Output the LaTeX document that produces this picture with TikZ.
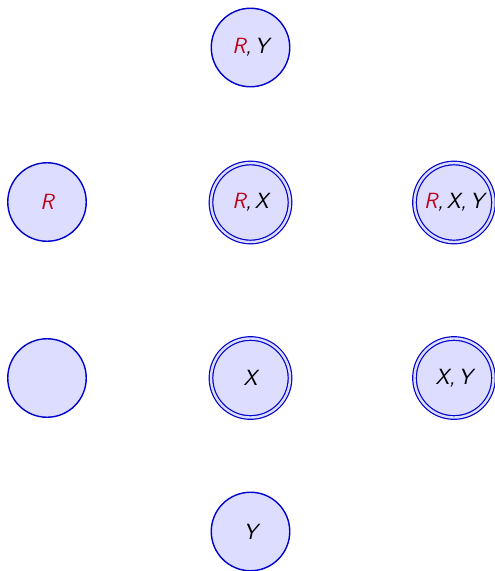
\documentclass[tikz,border=0pt]{standalone}
\definecolor{stfill}{HTML}{DDDDFF}
\definecolor{stdraw}{HTML}{0000CC}
\definecolor{rred}{HTML}{C00018}
\tikzset{
  state/.style={circle, draw=stdraw, fill=stfill, line width=1.4pt, minimum size=78.5pt, inner sep=0pt,
    font=\fontsize{22}{26}\selectfont\sffamily\slshape},
  acc/.style={state, double=stfill, double distance=2.4pt, line width=1.2pt, minimum size=79pt}
}
\newcommand{\rr}{\textcolor{rred}{R}}
\begin{document}
\begin{tikzpicture}[x=1pt,y=-1pt]
\useasboundingbox (0,0) rectangle (495,571);
\node[state] (ry) at (250.5,47.5) {\rr,\,Y};
\node[state] (r) at (47,202) {\rr};
\node[acc] (rx) at (250.5,202.5) {\rr,\,X};
\node[acc] (rxy) at (454,202.5) {\rr,\,X,\,Y};
\node[state] (e) at (47,378) {};
\node[acc] (x) at (250.5,378) {X};
\node[acc] (xy) at (454,378) {X,\,Y};
\node[state] (y) at (250.5,531.5) {Y};
\end{tikzpicture}
\end{document}
